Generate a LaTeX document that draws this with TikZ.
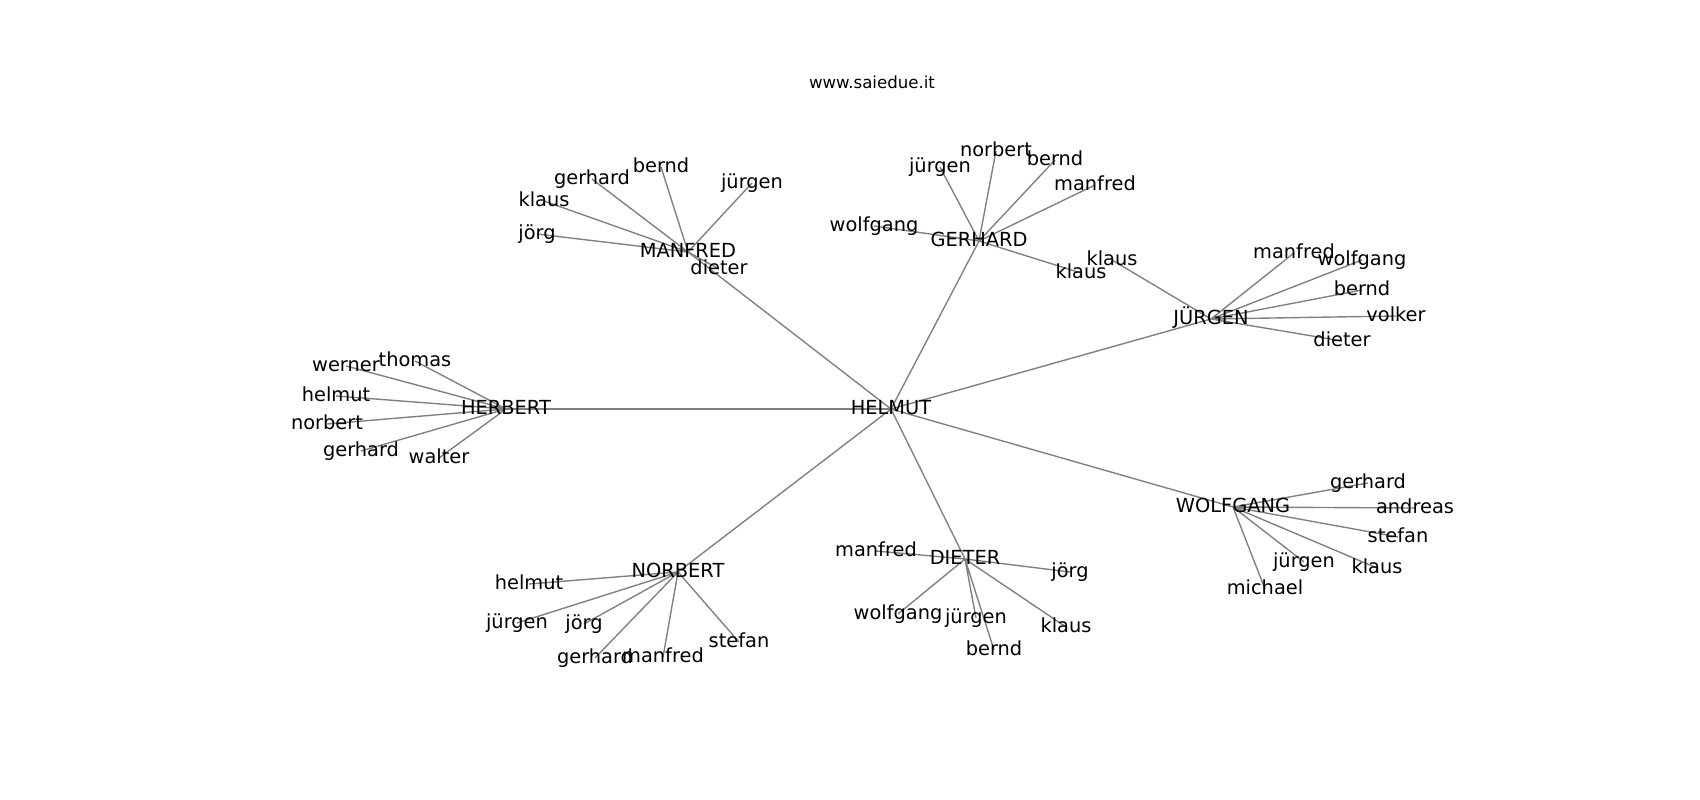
\documentclass[tikz,border=0pt]{standalone}
\usepackage{fontspec}
\setmainfont{DejaVu Sans}
\usetikzlibrary{backgrounds}

\begin{document}
\begin{tikzpicture}[
    x=0.01in, y=-0.01in,
    % Styles
    name_label/.style={
        inner sep=0pt,
        text height=1.1em,
        text depth=0.24em,
        font=\fontsize{14}{16}\selectfont
    },
    title_label/.style={inner sep=0pt, font=\fontsize{12}{14}\selectfont},
    edge_line/.style={draw=gray, line width=1pt}
]

    \useasboundingbox (0,0) rectangle (1700,800);

    % --- Title ---
    \node[title_label] (title) at (872,82) {www.saiedue.it};

    % --- CENTER ---
    \node[name_label] (helmut) at (891,409) {HELMUT};

    % --- MANFRED ---
    \node[name_label] (manfred) at (688,252) {MANFRED};
    \node[name_label] (m_bernd) at (661,167) {bernd};
    \node[name_label] (m_gerhard) at (592,179) {gerhard};
    \node[name_label] (m_klaus) at (544,201) {klaus};
    \node[name_label] (m_joerg) at (537,234) {jörg};
    \node[name_label] (m_juergen) at (752,183) {jürgen};
    \node[name_label] (m_dieter) at (719,269) {dieter};

    % --- GERHARD ---
    \node[name_label] (gerhard) at (979,241) {GERHARD};
    \node[name_label] (g_juergen) at (940,167) {jürgen};
    \node[name_label] (g_norbert) at (996,151) {norbert};
    \node[name_label] (g_bernd) at (1055,160) {bernd};
    \node[name_label] (g_manfred) at (1095,185) {manfred};
    \node[name_label] (g_wolfgang) at (874,226) {wolfgang};
    \node[name_label] (g_klaus) at (1081,273) {klaus};

    % --- JÜRGEN ---
    \node[name_label] (juergen) at (1211,319) {JÜRGEN};
    \node[name_label] (j_klaus) at (1112,260) {klaus};
    \node[name_label] (j_manfred) at (1294,253) {manfred};
    \node[name_label] (j_wolfgang) at (1362,260) {wolfgang};
    \node[name_label] (j_bernd) at (1362,290) {bernd};
    \node[name_label] (j_volker) at (1396,316) {volker};
    \node[name_label] (j_dieter) at (1342,341) {dieter};

    % --- HERBERT ---
    \node[name_label] (herbert) at (506,409) {HERBERT};
    \node[name_label] (h_thomas) at (415,361) {thomas};
    \node[name_label] (h_werner) at (346,366) {werner};
    \node[name_label] (h_helmut) at (336,396) {helmut};
    \node[name_label] (h_norbert) at (327,424) {norbert};
    \node[name_label] (h_gerhard) at (361,451) {gerhard};
    \node[name_label] (h_walter) at (439,458) {walter};

    % --- WOLFGANG ---
    \node[name_label] (wolfgang) at (1233,507) {WOLFGANG};
    \node[name_label] (w_gerhard) at (1368,483) {gerhard};
    \node[name_label] (w_andreas) at (1415,508) {andreas};
    \node[name_label] (w_stefan) at (1398,537) {stefan};
    \node[name_label] (w_klaus) at (1377,568) {klaus};
    \node[name_label] (w_juergen) at (1304,562) {jürgen};
    \node[name_label] (w_michael) at (1265,589) {michael};

    % --- NORBERT ---
    \node[name_label] (norbert) at (678,572) {NORBERT};
    \node[name_label] (n_helmut) at (529,584) {helmut};
    \node[name_label] (n_juergen) at (517,623) {jürgen};
    \node[name_label] (n_joerg) at (584,624) {jörg};
    \node[name_label] (n_gerhard) at (595,658) {gerhard};
    \node[name_label] (n_manfred) at (663,657) {manfred};
    \node[name_label] (n_stefan) at (739,642) {stefan};

    % --- DIETER ---
    \node[name_label] (dieter) at (965,559) {DIETER};
    \node[name_label] (d_manfred) at (876,551) {manfred};
    \node[name_label] (d_joerg) at (1070,572) {jörg};
    \node[name_label] (d_wolfgang) at (898,614) {wolfgang};
    \node[name_label] (d_juergen) at (976,618) {jürgen};
    \node[name_label] (d_klaus) at (1066,627) {klaus};
    \node[name_label] (d_bernd) at (994,650) {bernd};

    % --- EDGES ---
    % Hardcoded, one line per hub
    \begin{scope}[on background layer]
        % Center to hubs
        \draw[edge_line] (helmut.center) -- (manfred.center);
        \draw[edge_line] (helmut.center) -- (gerhard.center);
        \draw[edge_line] (helmut.center) -- (juergen.center);
        \draw[edge_line] (helmut.center) -- (herbert.center);
        \draw[edge_line] (helmut.center) -- (wolfgang.center);
        \draw[edge_line] (helmut.center) -- (norbert.center);
        \draw[edge_line] (helmut.center) -- (dieter.center);

        % Manfred
        \draw[edge_line] (manfred.center) -- (m_bernd.center) (manfred.center) -- (m_gerhard.center) (manfred.center) -- (m_klaus.center) (manfred.center) -- (m_joerg.center) (manfred.center) -- (m_juergen.center) (manfred.center) -- (m_dieter.center);

        % Gerhard
        \draw[edge_line] (gerhard.center) -- (g_juergen.center) (gerhard.center) -- (g_norbert.center) (gerhard.center) -- (g_bernd.center) (gerhard.center) -- (g_manfred.center) (gerhard.center) -- (g_wolfgang.center) (gerhard.center) -- (g_klaus.center);

        % Juergen
        \draw[edge_line] (juergen.center) -- (j_klaus.center) (juergen.center) -- (j_manfred.center) (juergen.center) -- (j_wolfgang.center) (juergen.center) -- (j_bernd.center) (juergen.center) -- (j_volker.center) (juergen.center) -- (j_dieter.center);

        % Herbert
        \draw[edge_line] (herbert.center) -- (h_thomas.center) (herbert.center) -- (h_werner.center) (herbert.center) -- (h_helmut.center) (herbert.center) -- (h_norbert.center) (herbert.center) -- (h_gerhard.center) (herbert.center) -- (h_walter.center);

        % Wolfgang
        \draw[edge_line] (wolfgang.center) -- (w_gerhard.center) (wolfgang.center) -- (w_andreas.center) (wolfgang.center) -- (w_stefan.center) (wolfgang.center) -- (w_klaus.center) (wolfgang.center) -- (w_juergen.center) (wolfgang.center) -- (w_michael.center);

        % Norbert
        \draw[edge_line] (norbert.center) -- (n_helmut.center) (norbert.center) -- (n_juergen.center) (norbert.center) -- (n_joerg.center) (norbert.center) -- (n_gerhard.center) (norbert.center) -- (n_manfred.center) (norbert.center) -- (n_stefan.center);

        % Dieter
        \draw[edge_line] (dieter.center) -- (d_manfred.center) (dieter.center) -- (d_joerg.center) (dieter.center) -- (d_wolfgang.center) (dieter.center) -- (d_juergen.center) (dieter.center) -- (d_klaus.center) (dieter.center) -- (d_bernd.center);
    \end{scope}

\end{tikzpicture}
\end{document}
